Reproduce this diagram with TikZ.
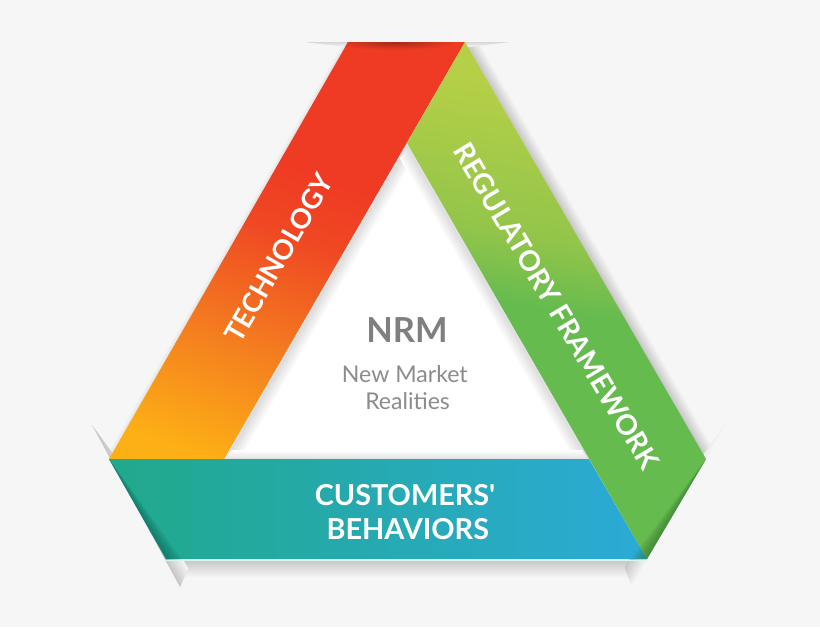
\documentclass[tikz,border=0pt]{standalone}
\usepackage{fontspec}
\setmainfont{Lato}
\usetikzlibrary{calc}
\definecolor{paper}{HTML}{F6F6F6}
\definecolor{fold}{HTML}{C6C6C6}
\definecolor{rim}{HTML}{E2E2E2}
\definecolor{techred}{HTML}{EF3B23}
\definecolor{techdark}{HTML}{A42A18}
\definecolor{techyel}{HTML}{FDB015}
\definecolor{techorg}{HTML}{F47E1F}
\definecolor{techmid}{HTML}{EF4823}
\definecolor{custleft}{HTML}{21A98B}
\definecolor{custright}{HTML}{2BAAD7}
\definecolor{custdark}{HTML}{0B5F52}
\definecolor{regugreen}{HTML}{66BB4F}
\definecolor{regumid}{HTML}{92C54A}
\definecolor{regulime}{HTML}{B5CF47}
\definecolor{regudark}{HTML}{2F6F2E}
\definecolor{nrmgray}{HTML}{7F7F7F}
\pgfdeclareverticalshading{techband}{100bp}{color(0bp)=(techyel); color(22bp)=(techyel); color(37bp)=(techorg); color(52bp)=(techmid); color(60bp)=(techred); color(100bp)=(techred)}
\pgfdeclareverticalshading{reguband}{100bp}{color(0bp)=(regugreen); color(49bp)=(regugreen); color(56bp)=(regumid); color(71bp)=(regulime); color(100bp)=(regulime)}
\tikzset{
  ribbonlabel/.style={text=white,align=center,font=\fontsize{#1}{23.8}\selectfont\bfseries},
  ribbonlabel/.default={20},
}
% strip along an edge, from a point at an angle: length, depth, top and bottom colours
\newcommand{\foldstrip}[6]{%
  \begin{scope}[transform canvas={shift={(#1)},rotate=#2}]
    \shade[top color=#5,bottom color=#6] (0,0) rectangle (#3,#4);
  \end{scope}}
\begin{document}
\begin{tikzpicture}[x=0.025cm,y=-0.025cm]
    \useasboundingbox (0,0) rectangle (820,627);
    \fill[paper] (0,0) rectangle (820,627);

    \coordinate (topl) at (348,42);
    \coordinate (topr) at (465,42);
    \coordinate (apex) at (407,143);
    \coordinate (redl) at (109,459);
    \coordinate (redr) at (224,459);
    \coordinate (blur) at (589,459);
    \coordinate (grnr) at (706,459);
    \coordinate (botr) at (647,559);
    \coordinate (botl) at (166,559);
    \coordinate (flapl) at (92,425);
    \coordinate (flapr) at (728,420);
    \coordinate (flapbl) at (180,587);
    \coordinate (flapbr) at (632,587);

    % shadows behind the ribbons
    \begin{scope}
      \clip (305,42) -- (510,42) -- (flapr) -- (flapbr) -- (flapbl) -- (flapl) -- cycle;
      \foldstrip{redl}{60.2}{481}{-5}{paper}{rim}
      \foldstrip{topr}{-60}{482}{-12}{paper}{fold}
      \begin{scope}
        \clip (305,42) -- (510,42) -- (470,47) -- (345,47) -- cycle;
        \foldstrip{305,42}{0}{205}{5}{fold!70}{paper}
      \end{scope}
      \begin{scope}
        \clip (botl) -- (botr) -- (flapbr) -- (flapbl) -- cycle;
        \foldstrip{150,560}{0}{510}{17}{fold}{paper}
      \end{scope}
      % shadows of the side flaps
      \begin{scope}
        \clip (flapl) -- (flapbl) -- (192,560) -- (125,470) -- cycle;
        \foldstrip{flapl}{-61.5}{185}{-16}{paper}{fold}
      \end{scope}
      \begin{scope}
        \clip (flapr) -- (flapbr) -- (622,560) -- (692,470) -- cycle;
        \foldstrip{flapr}{-120}{195}{16}{paper}{fold}
      \end{scope}
    \end{scope}
    \draw[white!85!custleft,line width=0.7pt] (botl) ++(0,1.5) -- (647,560.5);

    % inner triangle
    \fill[white] (apex) -- (blur) -- (redr) -- cycle;
    \begin{scope}
      \clip (apex) -- (blur) -- (redr) -- cycle;
      \foldstrip{redr}{60}{366}{14}{fold!70}{white}
      \foldstrip{apex}{-60}{366}{14}{fold!70}{white}
      \foldstrip{220,450}{0}{375}{9}{white}{rim}
      \draw[rim,line width=2.2pt] (redr) -- (apex) -- (blur);
      \draw[rim,line width=1.2pt] (redr) -- (blur);
    \end{scope}

    % ribbons
    \shade[shading=techband,shading angle=-20] (redl) -- (topl) -- (topr) -- (redr) -- cycle;
    \begin{scope}
      \clip (topl) -- (topr) -- (apex) -- (320,90) -- cycle;
      \shade[inner color=techdark,outer color=techred] (395,42) ellipse (62 and 8);
    \end{scope}
    \shade[left color=custleft,right color=custright] (redl) -- (blur) -- (botr) -- (botl) -- cycle;
    \shade[shading=reguband,shading angle=-9] (topr) -- (grnr) -- (botr) -- (apex) -- cycle;

    % dark ends under the flaps
    \foreach \d in {2,4,...,16} {
      \fill[custdark,fill opacity=0.09] (redl) -- (botl) -- ++(\d,0) -- cycle;
      \fill[regudark,fill opacity=0.09] (grnr) -- (botr) -- ++(-\d,0) -- cycle;
    }

    % labels
    \node[ribbonlabel=19.6,rotate=60] (tech) at (278.5,258) {TECHNOLOGY};
    \node[ribbonlabel=20,rotate=-59.2] (regu) at (556.5,306) {REGULATORY FRAMEWORK};
    \node[ribbonlabel=20.5] (cust) at (405,512) {CUSTOMERS\textquotesingle\\\hspace*{4pt}BEHAVIORS};
    \node[text=nrmgray,font=\fontsize{24.5}{28}\selectfont\bfseries] (nrm) at (407,330) {NRM};
    \node[text=nrmgray!90,align=center,font=\fontsize{16.4}{19.2}\selectfont] (real) at (404.8,387.5) {New Market\\\hspace*{4pt}Realities};
\end{tikzpicture}
\end{document}
